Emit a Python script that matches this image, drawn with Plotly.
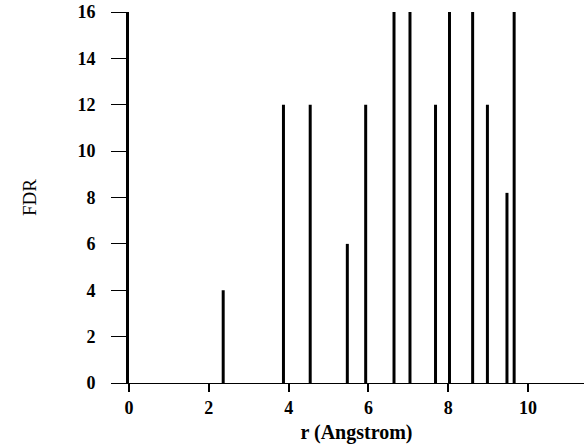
import plotly.graph_objects as go

r_values = [2.36, 3.87, 4.54, 5.47, 5.93, 6.64, 7.04, 7.68, 8.03, 8.61, 8.98, 9.47, 9.65]
fdr_values = [4, 12, 12, 6, 12, 16, 16, 12, 16, 16, 12, 8.2, 16]
x_ticks = [0, 2, 4, 6, 8, 10]
y_ticks = [0, 2, 4, 6, 8, 10, 12, 14, 16]

fig = go.Figure()
fig.add_trace(go.Bar(
    x=r_values, y=fdr_values, width=0.075,
    marker=dict(color="black", line=dict(width=0)),
))

font = dict(family="Liberation Serif, Times New Roman, serif", color="black")

fig.update_layout(
    width=584, height=445,
    margin=dict(l=129, r=0, t=12, b=62),
    plot_bgcolor="white", paper_bgcolor="white",
    showlegend=False,
    font=font,
    xaxis=dict(
        range=[0, 11.4], tickvals=x_ticks, ticktext=[str(v) for v in x_ticks],
        showgrid=False, zeroline=False,
        showline=True, linecolor="black", linewidth=1,
        ticks="outside", ticklen=8, tickwidth=2, tickcolor="black",
        tickfont=dict(size=18, weight="bold", **font),
        title=dict(text="r (Angstrom)", font=dict(size=20, weight="bold", **font), standoff=8),
    ),
    yaxis=dict(
        range=[0, 16], tickvals=y_ticks, ticktext=[str(v) for v in y_ticks],
        showgrid=False, zeroline=False,
        showline=True, linecolor="black", linewidth=3,
        ticks="outside", ticklen=15, tickwidth=1, tickcolor="black",
        tickfont=dict(size=18, weight="bold", **font),
        ticklabelstandoff=12,
        title=dict(text="FDR", font=dict(size=19, **font), standoff=36),
    ),
)

fig.write_html("out.html")
